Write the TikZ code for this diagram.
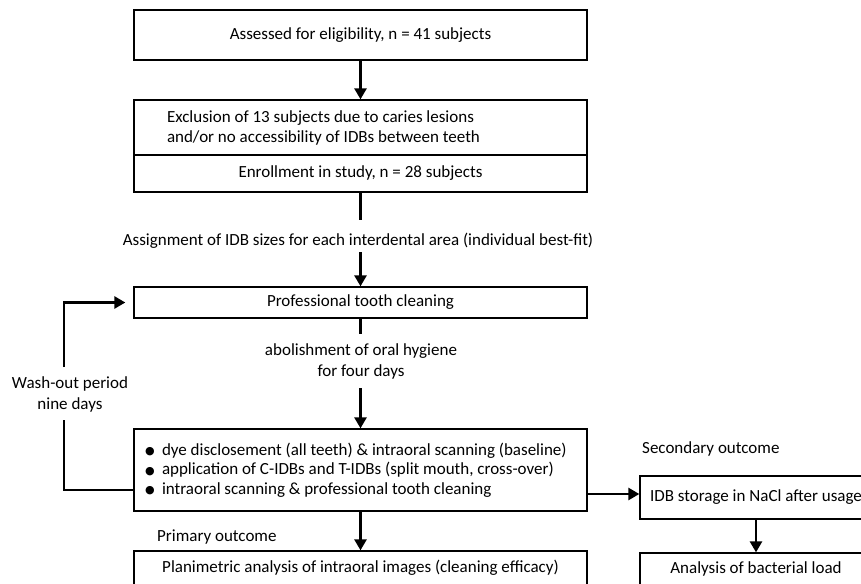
\documentclass[tikz,border=0pt]{standalone}
\usepackage{fontspec}
\setmainfont{Carlito}
\newfontfamily\symfont{DejaVu Sans}
\usetikzlibrary{arrows.meta,calc}
\begin{document}
\begin{tikzpicture}[x=1pt,y=-1pt,
  box/.style={draw=black,line width=1.3pt,fill=white,inner sep=0pt,minimum width=453pt,align=center,font=\fontsize{17}{20}\selectfont},
  lbl/.style={inner sep=0pt,align=center,font=\fontsize{17}{21}\selectfont},
  conn/.style={line width=2.6pt},
  arr/.style={line width=2.6pt,-{Triangle[length=11pt,width=12pt]}}]
\useasboundingbox (0,0) rectangle (861,583);
\clip (0,0) rectangle (861,583);
\newcommand{\bul}{\makebox[17pt][l]{\raisebox{0.5pt}{\symfont\fontsize{11}{11}\selectfont ●}}}
% main column
\node[box,minimum height=55pt,align=flush left,text width=387pt,inner xsep=33pt] (box2a) at (360.5,127.5)
  {Exclusion of 13 subjects due to caries lesions\\and/or no accessibility of IDBs between teeth};
\node[box,minimum height=50pt] (box1) at (360.5,35) {Assessed for eligibility, n = 41 subjects};
\node[box,minimum height=37pt] (box2b) at (360.5,173.5) {Enrollment in study, n = 28 subjects};
\node[lbl] (assign) at (358,241) {Assignment of IDB sizes for each interdental area (individual best-fit)};
\coordinate (a1) at (360.5,220);
\coordinate (a2) at (360.5,252);
\node[box,minimum height=31pt] (box3) at (360.5,302.5) {Professional tooth cleaning};
\node[lbl] (abol) at (361,361.5) {abolishment of oral hygiene\\for four days};
\coordinate (b1) at (360.5,334);
\coordinate (b2) at (360.5,388);
\node[box,minimum height=82pt,align=flush left,text width=431pt,inner xsep=11pt,font=\fontsize{17}{19.5}\selectfont] (box4) at (360.5,470)
  {\bul dye disclosement (all teeth) \& intraoral scanning (baseline)\\
   \bul application of C-IDBs and T-IDBs (split mouth, cross-over)\\
   \bul intraoral scanning \& professional tooth cleaning};
\node[lbl,anchor=west] (prim) at (157,537) {Primary outcome};
\node[box,minimum height=34pt] (box5) at (360.5,568) {Planimetric analysis of intraoral images (cleaning efficacy)};
% wash-out loop
\node[lbl] (wash) at (70,394.5) {Wash-out period\\nine days};
\coordinate (w1) at (64,420);
\coordinate (w2) at (64,367);
% right column
\node[lbl,anchor=west] (sec) at (642,449) {Secondary outcome};
\node[box,minimum width=232pt,minimum height=43pt] (idb) at (756,497.5) {IDB storage in NaCl after usage};
\node[box,minimum width=232pt,minimum height=32pt] (ana) at (756,569) {Analysis of bacterial load};
% connectors
\draw[arr] (box1) -- (box2a);
\draw[conn] (box2b) -- (a1);
\draw[arr] (a2) -- (box3);
\draw[conn] (box3) -- (b1);
\draw[arr] (b2) -- (box4);
\draw[arr] (box4) -- (box5);
\draw[conn] ($(box4.west)+(0,20)$) -| (w1);
\draw[arr,shorten >=8pt] (w2) |- (box3.west);
\draw[arr] ($(box4.east)+(0,24)$) coordinate (r0) -- (r0 -| idb.west);
\draw[arr] (idb) -- (ana);
\end{tikzpicture}
\end{document}
